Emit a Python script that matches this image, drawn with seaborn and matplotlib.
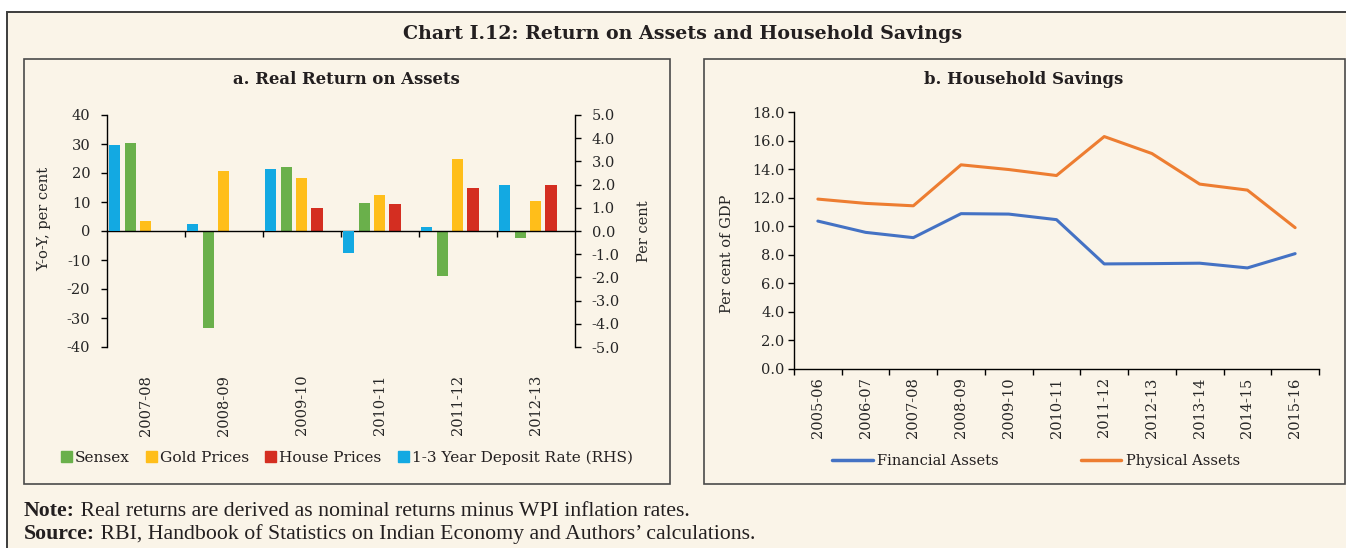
import matplotlib
matplotlib.use("Agg")
import matplotlib.pyplot as plt
from matplotlib.patches import Rectangle, Patch
from matplotlib.lines import Line2D
from matplotlib.text import Annotation
from matplotlib.ticker import FormatStrFormatter
import seaborn as sns
import pandas as pd
import numpy as np

# Panel a: real return on assets (per cent, y-o-y)
years_a = ["2007-08", "2008-09", "2009-10", "2010-11", "2011-12", "2012-13"]
sensex = [30.2, -33.5, 22.0, 9.6, -15.4, -2.4]
gold = [3.4, 20.8, 18.4, 12.3, 24.8, 10.3]
house = [np.nan, np.nan, 7.9, 9.4, 14.8, 15.7]
deposit = [3.7, 0.3, 2.67, -0.95, 0.19, 1.97]  # RHS

# Panel b: household savings (per cent of GDP)
years_b = ["2005-06", "2006-07", "2007-08", "2008-09", "2009-10", "2010-11",
           "2011-12", "2012-13", "2013-14", "2014-15", "2015-16"]
financial = [10.36, 9.57, 9.2, 10.88, 10.85, 10.46, 7.36, 7.38, 7.41, 7.08, 8.08]
physical = [11.9, 11.6, 11.43, 14.3, 13.97, 13.55, 16.28, 15.09, 12.95, 12.53, 9.9]

CREAM = "#FAF4E8"
GREEN, YELLOW, RED, BLUE = "#6AB04B", "#FFBE1A", "#D42E21", "#13A9E2"
LBLUE, ORANGE = "#4472C4", "#ED7D31"

sns.set_theme(style="white")
plt.rcParams["font.family"] = ["DejaVu Serif"]
plt.rcParams["axes.unicode_minus"] = False
plt.rcParams["text.color"] = "#231F20"

W, H = 1346, 548
fig = plt.figure(figsize=(W / 100, H / 100), dpi=100)
fig.patch.set_facecolor("white")


def box(x0, y0, x1, y1, **kw):
    fig.add_artist(Rectangle((x0 / W, 1 - y1 / H), (x1 - x0) / W, (y1 - y0) / H,
                             transform=fig.transFigure, zorder=-5, **kw))


box(7, 12, 1380, 580, facecolor=CREAM, edgecolor="#3C3C3C", lw=1.4)
box(24, 59, 670, 484, facecolor="none", edgecolor="#4A4A4A", lw=1.2)
box(704, 59, 1345, 484, facecolor="none", edgecolor="#4A4A4A", lw=1.2)

fig.text(683 / W, 1 - 34 / H, "Chart I.12: Return on Assets and Household Savings",
         ha="center", va="center", fontsize=13.7, fontweight="bold")
fig.text(346 / W, 1 - 80 / H, "a. Real Return on Assets",
         ha="center", va="center", fontsize=11.9, fontweight="bold")
fig.text(1024 / W, 1 - 80 / H, "b. Household Savings",
         ha="center", va="center", fontsize=11.9, fontweight="bold")

TICK = 10.5

# ---- panel a ----
ax = fig.add_axes([107 / W, 1 - 347 / H, 468 / W, 232 / H])
ax.set_facecolor("none")
n = len(years_a)
idx = np.arange(n)
bw = 0.147
ax.bar(idx + 0.30, sensex, bw, color=GREEN, linewidth=0)
ax.bar(idx + 0.495, gold, bw, color=YELLOW, linewidth=0)
ax.bar(idx + 0.69, house, bw, color=RED, linewidth=0)
ax.set_xlim(0, n)
ax.set_ylim(-40, 40)
ax.set_yticks(range(-40, 41, 10))
ax.set_xticks(range(1, n))
ax.set_xticklabels([])
ax.spines[["top", "right"]].set_visible(False)
ax.spines["bottom"].set_position(("data", 0))
for s in ["bottom", "left"]:
    ax.spines[s].set_color("black")
    ax.spines[s].set_linewidth(1)
ax.tick_params(axis="x", direction="out", length=4, width=1, color="black", bottom=True)
ax.tick_params(axis="y", direction="out", length=4, width=1, color="black", left=True,
               labelsize=TICK, pad=8)
ax.set_ylabel("Y-o-Y, per cent", fontsize=TICK)
ax.yaxis.set_label_coords(-0.12, 0.55)

sec = ax.secondary_xaxis("bottom")
sec.set_xticks(idx + 0.5, labels=years_a, rotation=90)
sec.tick_params(length=0, pad=20, labelsize=TICK)
sec.spines["bottom"].set_visible(False)

ax2 = ax.twinx()
ax2.bar(idx + 0.095, deposit, bw, color=BLUE, linewidth=0)
ax2.set_ylim(-5, 5)
ax2.set_yticks(np.arange(-5, 5.1, 1))
ax2.yaxis.set_major_formatter(FormatStrFormatter("%.1f"))
ax2.spines[["top", "left", "bottom"]].set_visible(False)
ax2.spines["right"].set_color("black")
ax2.spines["right"].set_linewidth(1)
ax2.tick_params(axis="y", direction="out", length=4, width=1, color="black", right=True,
                labelsize=TICK, pad=8)
ax2.set_ylabel("Per cent", fontsize=TICK)
ax2.yaxis.set_label_coords(1.133, 0.5)

fig.legend(handles=[Patch(color=GREEN), Patch(color=YELLOW), Patch(color=RED), Patch(color=BLUE)],
           labels=["Sensex", "Gold Prices", "House Prices", "1-3 Year Deposit Rate (RHS)"],
           loc="center", bbox_to_anchor=(347 / W, 1 - 458 / H), ncol=4, frameon=False,
           handlelength=0.7, handleheight=0.7, handletextpad=0.2, columnspacing=1.05,
           fontsize=11.1)

# ---- panel b ----
bx = fig.add_axes([794 / W, 1 - 369 / H, 525 / W, 257 / H])
bx.set_facecolor("none")
df = pd.DataFrame({
    "Year": years_b * 2,
    "Value": financial + physical,
    "Series": ["Financial Assets"] * len(years_b) + ["Physical Assets"] * len(years_b),
})
sns.lineplot(data=df, x="Year", y="Value", hue="Series", palette=[LBLUE, ORANGE],
             linewidth=2.2, legend=False, sort=False, ax=bx)
bx.set_xlim(-0.5, len(years_b) - 0.5)
bx.set_ylim(0, 18)
bx.set_yticks(np.arange(0, 18.1, 2))
bx.yaxis.set_major_formatter(FormatStrFormatter("%.1f"))
bx.set_xticks(range(len(years_b)), labels=years_b, rotation=90)
bx.set_xticks(np.arange(-0.5, len(years_b), 1), minor=True)
bx.tick_params(axis="x", which="major", length=0, pad=6, labelsize=TICK)
bx.tick_params(axis="x", which="minor", direction="out", length=4, width=1, color="black", bottom=True)
bx.tick_params(axis="y", direction="out", length=4, width=1, color="black", left=True,
               labelsize=TICK, pad=3)
bx.spines[["top", "right"]].set_visible(False)
for s in ["bottom", "left"]:
    bx.spines[s].set_color("black")
    bx.spines[s].set_linewidth(1)
bx.set_xlabel("")
bx.set_ylabel("Per cent of GDP", fontsize=TICK)
bx.yaxis.set_label_coords(-0.114, 0.45)

fig.legend(handles=[Line2D([0], [0], color=LBLUE, lw=2.5), Line2D([0], [0], color=ORANGE, lw=2.5)],
           labels=["Financial Assets", "Physical Assets"],
           loc="center", bbox_to_anchor=(1036 / W, 1 - 461 / H), ncol=2, frameon=False,
           handlelength=2.8, handletextpad=0.3, columnspacing=5.6, fontsize=TICK)

# ---- notes ----
NOTE = 15.7
t1 = fig.text(24 / W, 1 - 516 / H, "Note:", ha="left", va="baseline",
              fontsize=NOTE, fontweight="bold", family="Liberation Serif")
fig.add_artist(Annotation(" Real returns are derived as nominal returns minus WPI inflation rates.",
                          xy=(1, 0), xycoords=t1, va="bottom", ha="left",
                          fontsize=NOTE, family="Liberation Serif"))
t2 = fig.text(24 / W, 1 - 539 / H, "Source:", ha="left", va="baseline",
              fontsize=NOTE, fontweight="bold", family="Liberation Serif")
fig.add_artist(Annotation(" RBI, Handbook of Statistics on Indian Economy and Authors\u2019 calculations.",
                          xy=(1, 0), xycoords=t2, va="bottom", ha="left",
                          fontsize=NOTE, family="Liberation Serif"))

fig.savefig("out.png", dpi=100)
